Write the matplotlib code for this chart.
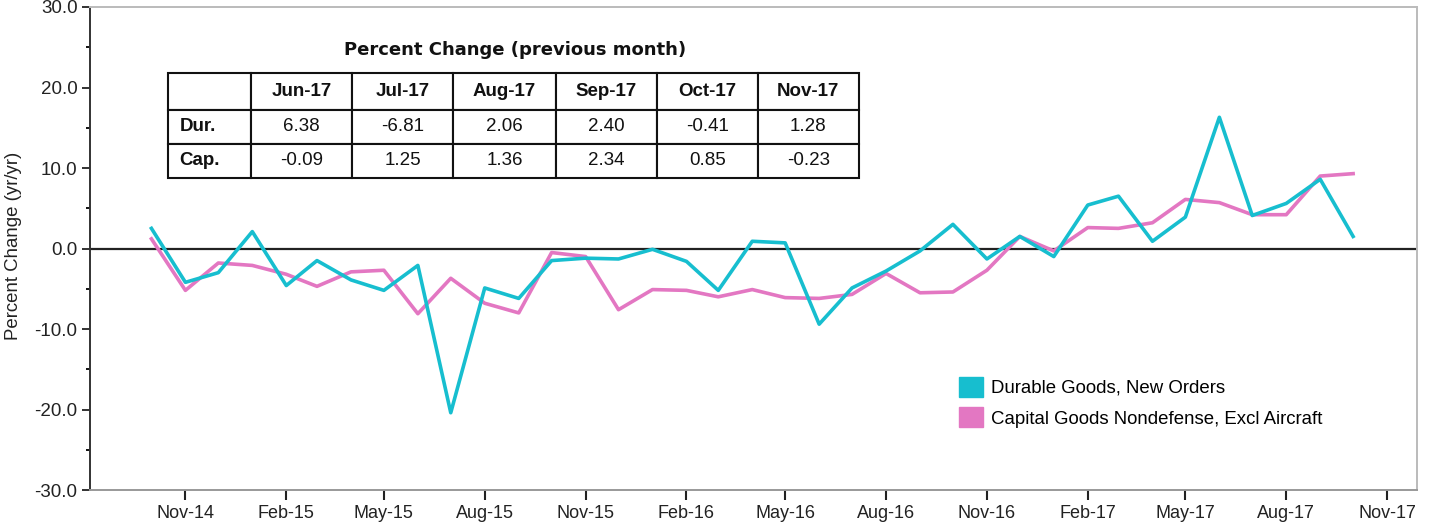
import datetime as dt
import matplotlib
matplotlib.use("Agg")
import matplotlib.pyplot as plt
import matplotlib.dates as mdates
from matplotlib.patches import Patch
from matplotlib.ticker import MultipleLocator, FormatStrFormatter

# monthly observations, Oct-14 .. Oct-17
months = [dt.date(2014 + (9 + i) // 12, (9 + i) % 12 + 1, 1) for i in range(37)]

durable = [2.5, -4.2, -3.0, 2.1, -4.6, -1.5, -3.9, -5.2, -2.1, -20.4,
           -4.9, -6.2, -1.5, -1.2, -1.3, -0.1, -1.6, -5.2, 0.9, 0.7,
           -9.4, -4.9, -2.8, -0.3, 3.0, -1.3, 1.5, -1.0, 5.4, 6.5,
           0.9, 3.9, 16.3, 4.1, 5.6, 8.6, 1.5]
capital = [1.2, -5.2, -1.8, -2.1, -3.2, -4.7, -2.9, -2.7, -8.1, -3.7,
           -6.8, -8.0, -0.5, -1.0, -7.6, -5.1, -5.2, -6.0, -5.1, -6.1,
           -6.2, -5.7, -3.1, -5.5, -5.4, -2.7, 1.5, -0.3, 2.6, 2.5,
           3.2, 6.1, 5.7, 4.2, 4.2, 9.0, 9.3]

table_cols = ["Jun-17", "Jul-17", "Aug-17", "Sep-17", "Oct-17", "Nov-17"]
table_rows = ["Dur.", "Cap."]
dur_mom = ["6.38", "-6.81", "2.06", "2.40", "-0.41", "1.28"]
cap_mom = ["-0.09", "1.25", "1.36", "2.34", "0.85", "-0.23"]

cyan = "#17becf"
pink = "#e377c2"

plt.rcParams["font.family"] = ["Liberation Sans", "DejaVu Sans"]

fig = plt.figure(figsize=(14.29, 5.26), dpi=100)
ax = fig.add_axes([0.063, 0.0684, 0.9284, 0.9183])

ax.axhline(0, color="#222222", lw=1.6, zorder=1)
ax.plot(months, capital, color=pink, lw=2.6, zorder=2)
ax.plot(months, durable, color=cyan, lw=2.6, zorder=3)

ax.set_ylim(-30, 30)
ax.set_xlim(dt.date(2014, 8, 6), dt.date(2017, 11, 28))
ax.yaxis.set_major_locator(MultipleLocator(10))
ax.yaxis.set_minor_locator(MultipleLocator(5))
ax.yaxis.set_major_formatter(FormatStrFormatter("%.1f"))
ax.xaxis.set_major_locator(mdates.MonthLocator(bymonth=(2, 5, 8, 11)))
ax.xaxis.set_major_formatter(mdates.DateFormatter("%b-%y"))
ax.tick_params(axis="both", colors="#222222", direction="out")
ax.tick_params(axis="y", which="major", length=6, width=1.3, pad=3, labelsize=13.5)
ax.tick_params(axis="y", which="minor", length=3, width=1.3)
ax.tick_params(axis="x", which="major", length=7, width=1.5, pad=4, labelsize=13)

ax.set_ylabel("Percent Change (yr/yr)", fontsize=13.4, color="#222222")
ax.yaxis.set_label_coords(-0.0515, 0.505)

ax.spines["left"].set_color("#333333")
ax.spines["left"].set_linewidth(1.4)
ax.spines["bottom"].set_color("#999999")
ax.spines["bottom"].set_linewidth(1.4)
for s in ("top", "right"):
    ax.spines[s].set_color("#bbbbbb")
    ax.spines[s].set_linewidth(1.4)

# month-over-month table
ax.text(0.3203, 0.911, "Percent Change (previous month)", transform=ax.transAxes,
        ha="center", va="center", fontsize=13, fontweight="bold",
        family="DejaVu Sans", color="#111111")

cells = [[""] + table_cols,
         [table_rows[0]] + dur_mom,
         [table_rows[1]] + cap_mom]
tbl = ax.table(cellText=cells, cellLoc="center",
               colWidths=[83, 101, 101, 102, 101, 101, 101],
               bbox=[0.0588, 0.646, 0.5208, 0.2174], zorder=5)
tbl.auto_set_font_size(False)
for (r, c), cell in tbl.get_celld().items():
    cell.set_edgecolor("#111111")
    cell.set_linewidth(1.5)
    cell.set_facecolor("white")
    cell.set_height(0.037 if r == 0 else 0.034)
    txt = cell.get_text()
    txt.set_fontsize(13.5)
    txt.set_color("#111111")
    if r == 0 or c == 0:
        txt.set_fontweight("bold")
    if c == 0:
        cell.set_text_props(ha="left")
        cell.PAD = 0.14

handles = [Patch(facecolor=cyan, edgecolor=cyan),
           Patch(facecolor=pink, edgecolor=pink)]
ax.legend(handles, ["Durable Goods, New Orders",
                    "Capital Goods Nondefense, Excl Aircraft"],
          loc="upper left", bbox_to_anchor=(0.6552, 0.2346), frameon=False,
          fontsize=13.4, handlelength=1.26, handleheight=1.26,
          handletextpad=0.45, labelspacing=0.57, borderpad=0, borderaxespad=0)

fig.savefig("out.png", dpi=100)
